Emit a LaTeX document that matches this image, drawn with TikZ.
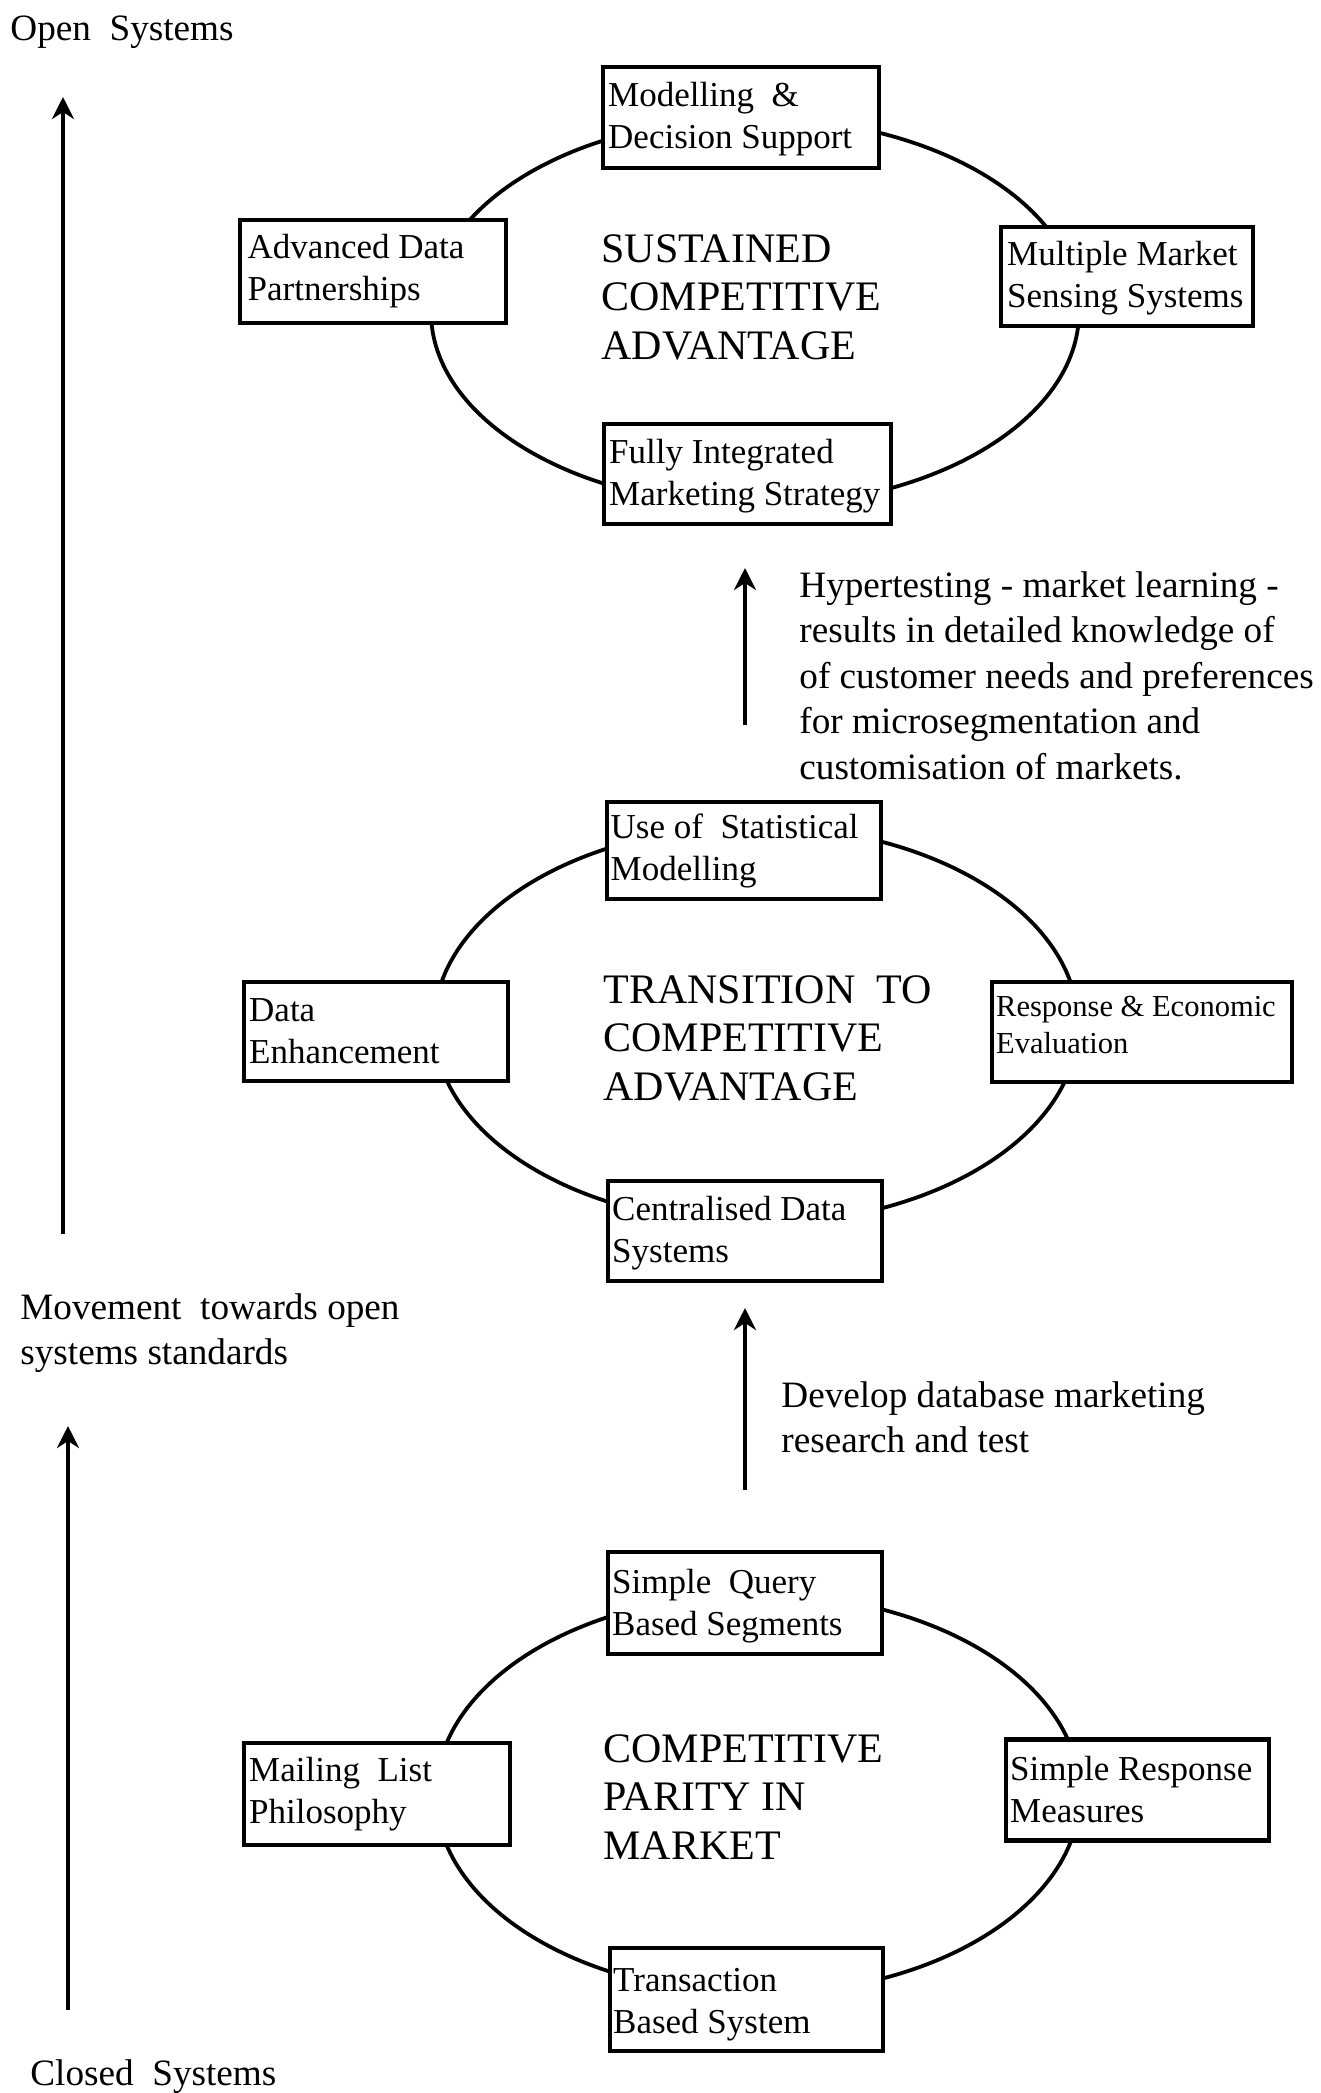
\documentclass[tikz,border=0pt]{standalone}
\usepackage{fontspec}
\setmainfont{Liberation Serif}
\usetikzlibrary{shapes.geometric,arrows.meta}

\begin{document}
\begin{tikzpicture}[x=0.5pt,y=-0.5pt,
  box/.style={draw, fill=white, line width=2.2pt, rectangle, inner sep=0pt},
  ring/.style={draw, ellipse, line width=1.9pt, inner sep=0pt},
  boxtext/.style={anchor=west, inner sep=0pt, align=left, font=\fontsize{17.5}{21}\selectfont},
  smalltext/.style={boxtext, font=\fontsize{15.25}{18.5}\selectfont},
  title/.style={anchor=north west, inner sep=0pt, align=left, font=\fontsize{21}{24.25}\selectfont},
  side/.style={anchor=north west, inner sep=0pt, align=left, font=\fontsize{18.6}{22.75}\selectfont},
  rise/.style={line width=2pt, -{Stealth[length=11pt,width=11pt,inset=3.5pt]}},
]
\useasboundingbox (0,0) rectangle (1321,2093);

% ---- level 3: sustained competitive advantage ----
\node[ring, minimum width=324pt, minimum height=194pt] (ring1) at (755,312) {};
\node[box, minimum width=138pt, minimum height=50.5pt] (mds) at (741,117.5) {};
\node[boxtext] (mds-t) at ([xshift=3.5pt,yshift=-1pt]mds.west) {Modelling\ \ \&\\Decision Support};
\node[box, minimum width=133pt, minimum height=51.5pt] (adp) at (373,271.5) {};
\node[boxtext] (adp-t) at ([xshift=4.75pt]adp.west) {Advanced Data\\Partnerships};
\node[box, minimum width=126pt, minimum height=49.5pt] (mms) at (1127,276.5) {};
\node[boxtext] (mms-t) at ([xshift=4pt,yshift=-1pt]mms.west) {Multiple Market\\Sensing Systems};
\node[box, minimum width=143.5pt, minimum height=50pt] (fims) at (747.5,474) {};
\node[boxtext] (fims-t) at ([xshift=3.5pt,yshift=-1pt]fims.west) {Fully Integrated\\Marketing Strategy};
\node[title] (t1) at (601,234) {SUSTAINED\\COMPETITIVE\\ADVANTAGE};

% ---- level 2: transition to competitive advantage ----
\node[ring, minimum width=322pt, minimum height=199pt] (ring2) at (756,1025) {};
\node[box, minimum width=137pt, minimum height=48.5pt] (usm) at (744,850.5) {};
\node[boxtext] (usm-t) at ([xshift=2.75pt]usm.west) {Use of\ \ Statistical\\Modelling};
\node[box, minimum width=132pt, minimum height=49.5pt] (de) at (376,1031.5) {};
\node[boxtext] (de-t) at ([xshift=3.5pt]de.west) {Data\\Enhancement};
\node[box, minimum width=150pt, minimum height=50pt] (ree) at (1142,1032) {};
\node[smalltext] (ree-t) at ([xshift=3pt,yshift=3.5pt]ree.west) {Response \& Economic\\Evaluation};
\node[box, minimum width=137pt, minimum height=50pt] (cds) at (745,1231) {};
\node[boxtext] (cds-t) at ([xshift=3pt,yshift=-1pt]cds.west) {Centralised Data\\Systems};
\node[title] (t2) at (603,975) {TRANSITION\ \ TO\\COMPETITIVE\\ADVANTAGE};

% ---- level 1: competitive parity in market ----
\node[ring, minimum width=322pt, minimum height=200pt] (ring3) at (758,1794) {};
\node[box, minimum width=137pt, minimum height=51pt] (sqbs) at (745,1603) {};
\node[boxtext] (sqbs-t) at ([xshift=3pt,yshift=-1.5pt]sqbs.west) {Simple\ \ Query\\Based Segments};
\node[box, minimum width=133pt, minimum height=51pt] (mlp) at (377,1794) {};
\node[boxtext] (mlp-t) at ([xshift=3.5pt]mlp.west) {Mailing\ \ List\\Philosophy};
\node[box, minimum width=131.5pt, minimum height=50.5pt] (srm) at (1137.5,1790) {};
\node[boxtext] (srm-t) at ([xshift=3pt]srm.west) {Simple Response\\Measures};
\node[box, minimum width=136.5pt, minimum height=51.5pt] (tbs) at (746.5,1999.5) {};
\node[boxtext] (tbs-t) at ([xshift=2.5pt,yshift=-2.5pt]tbs.west) {Transaction\\Based System};
\node[title] (t3) at (603,1734) {COMPETITIVE\\PARITY IN\\MARKET};

% ---- side labels ----
\node[side] (open) at (10,15) {Open\ \ Systems};
\node[side] (closed) at (30,2059) {Closed\ \ Systems};
\node[side] (move) at (20,1293) {Movement\ \ towards open\\systems standards};
\node[side] (dev) at (781,1381) {Develop database marketing\\research and test};
\node[side] (hyper) at (799,571) {Hypertesting - market learning -\\results in detailed knowledge of\\of customer needs and preferences\\for microsegmentation and\\customisation of markets.};

% ---- upward arrows ----
\coordinate (lt0) at (63,1234);
\coordinate (lt1) at (63,97);
\coordinate (lb0) at (68,2010);
\coordinate (lb1) at (68,1426);
\coordinate (h0) at (745,725);
\coordinate (h1) at (745,568);
\coordinate (d0) at (745,1490);
\coordinate (d1) at (745,1308);
\draw[rise] (lt0) -- (lt1);
\draw[rise] (lb0) -- (lb1);
\draw[rise] (h0) -- (h1);
\draw[rise] (d0) -- (d1);
\end{tikzpicture}
\end{document}
